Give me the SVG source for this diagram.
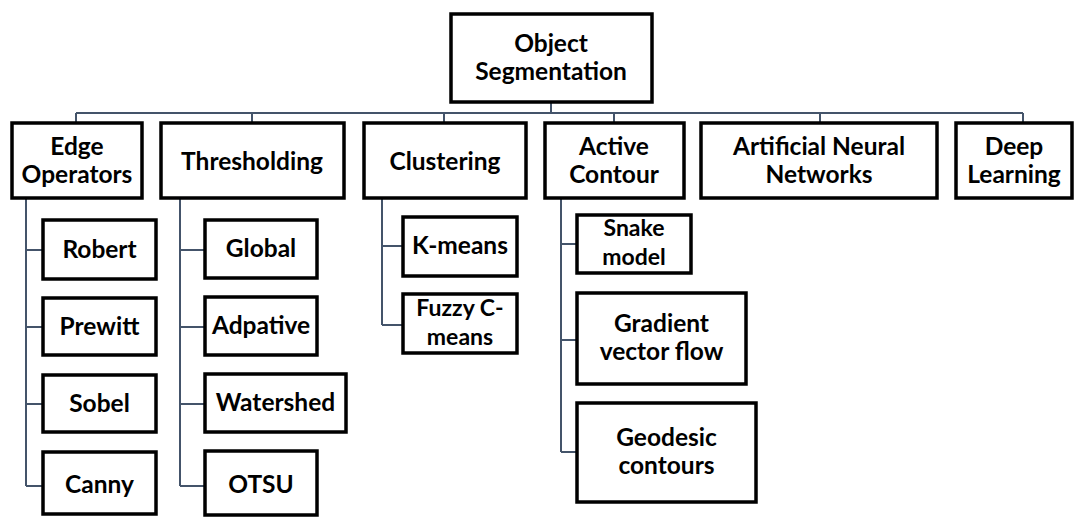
<svg xmlns="http://www.w3.org/2000/svg" width="1080" height="517" viewBox="0 0 1080 517">
<style>
.box{fill:#fff;stroke:#000;stroke-width:3.5}
.t{font-family:Lato,"Liberation Sans",sans-serif;font-weight:bold;font-size:24.5px;fill:#000;text-anchor:middle}
.s{font-size:23px}
.c{fill:none;stroke:#44546A;stroke-width:2}
</style>
<rect width="1080" height="517" fill="#fff"/>
<g id="connectors">
<path class="c" d="M551 102V113M76 113H1023M76 113V123M252 113V123M444 113V123M614 113V123M820 113V123M1023 113V123"/>
<path class="c" d="M26 198V486M26 250H43M26 327H43M26 404H43M26 486H43"/>
<path class="c" d="M180 198V486M180 250H205M180 327H205M180 404H205M180 486H205"/>
<path class="c" d="M382 198V325M382 246H403M382 325H403"/>
<path class="c" d="M561 198V452M561 244H577M561 340H577M561 452H577"/>
</g>
<g id="root"><rect class="box" x="451" y="14" width="201" height="88"/><text class="t" x="551" y="52">Object</text><text class="t" x="551" y="80">Segmentation</text></g>
<g id="edge"><rect class="box" x="12" y="123" width="130" height="75"/><text class="t" x="77" y="155">Edge</text><text class="t" x="77" y="183">Operators</text></g>
<g id="thresholding"><rect class="box" x="161" y="123" width="183" height="75"/><text class="t" x="252" y="170">Thresholding</text></g>
<g id="clustering"><rect class="box" x="364" y="123" width="162" height="75"/><text class="t" x="445" y="170">Clustering</text></g>
<g id="active"><rect class="box" x="545" y="123" width="139" height="75"/><text class="t" x="614" y="155">Active</text><text class="t" x="614" y="183">Contour</text></g>
<g id="ann"><rect class="box" x="701" y="123" width="236" height="75"/><text class="t" x="819" y="155">Artificial Neural</text><text class="t" x="819" y="183">Networks</text></g>
<g id="deep"><rect class="box" x="956" y="123" width="116" height="75"/><text class="t" x="1014" y="155">Deep</text><text class="t" x="1014" y="183">Learning</text></g>
<g id="robert"><rect class="box" x="43" y="220" width="113" height="59"/><text class="t" x="99.5" y="258">Robert</text></g>
<g id="prewitt"><rect class="box" x="43" y="298" width="113" height="57"/><text class="t" x="99.5" y="335">Prewitt</text></g>
<g id="sobel"><rect class="box" x="43" y="375" width="113" height="57"/><text class="t" x="99.5" y="412">Sobel</text></g>
<g id="canny"><rect class="box" x="43" y="452" width="113" height="62"/><text class="t" x="99.5" y="493">Canny</text></g>
<g id="global"><rect class="box" x="205" y="220" width="112" height="58"/><text class="t" x="261" y="257">Global</text></g>
<g id="adpative"><rect class="box" x="205" y="297" width="112" height="58"/><text class="t" x="261" y="334">Adpative</text></g>
<g id="watershed"><rect class="box" x="205" y="374" width="141" height="58"/><text class="t" x="275.5" y="411">Watershed</text></g>
<g id="otsu"><rect class="box" x="205" y="451" width="112" height="64"/><text class="t" x="261" y="493">OTSU</text></g>
<g id="kmeans"><rect class="box" x="403" y="217" width="114" height="59"/><text class="t" x="460" y="254">K-means</text></g>
<g id="fuzzy"><rect class="box" x="403" y="294" width="114" height="59"/><text class="t s" x="460" y="316">Fuzzy C-</text><text class="t s" x="460" y="345">means</text></g>
<g id="snake"><rect class="box" x="577" y="215" width="114" height="58"/><text class="t s" x="634" y="236">Snake</text><text class="t s" x="634" y="265">model</text></g>
<g id="gradient"><rect class="box" x="577" y="293" width="169" height="91"/><text class="t" x="661.5" y="332">Gradient</text><text class="t" x="661.5" y="360">vector flow</text></g>
<g id="geodesic"><rect class="box" x="577" y="403" width="179" height="99"/><text class="t" x="666.5" y="446">Geodesic</text><text class="t" x="666.5" y="474">contours</text></g>
</svg>
